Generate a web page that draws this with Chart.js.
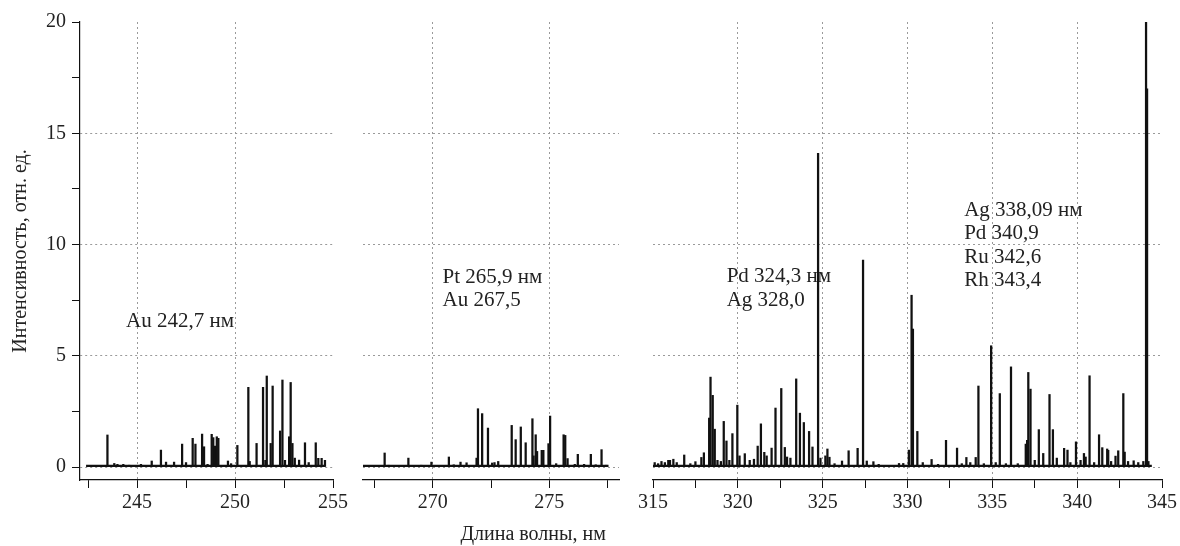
<!DOCTYPE html>
<html lang="ru">
<head>
<meta charset="utf-8">
<title>Спектр</title>
<script src="https://cdn.jsdelivr.net/npm/chart.js@4.4.1/dist/chart.umd.min.js"></script>
<style>
  html, body { margin: 0; padding: 0; background: #fff; overflow: hidden; }
  #wrap { position: relative; width: 1180px; height: 546px; }
  canvas { position: absolute; top: 0; }
</style>
</head>
<body>
<div id="wrap">
  <canvas id="panel-1" width="360" height="546" style="left:0"></canvas>
  <canvas id="panel-2" width="300" height="546" style="left:340px"></canvas>
  <canvas id="panel-3" width="550" height="546" style="left:630px"></canvas>
</div>
<script>
// --- Данные: длины волн (нм) и интенсивности (отн. ед.) ---
const p1Wl = [243.49, 243.84, 244.0, 244.3, 244.6, 245.2, 245.75, 246.22, 246.48, 246.89,
  247.3, 247.5, 247.84, 247.98, 248.32, 248.42, 248.6, 248.81, 248.89, 248.98,
  249.07, 249.15, 249.64, 249.8, 250.12, 250.68, 250.75, 251.1, 251.43, 251.55,
  251.62, 251.82, 251.92, 252.3, 252.42, 252.55, 252.76, 252.84, 252.93, 253.05,
  253.27, 253.57, 253.76, 254.12, 254.25, 254.42, 254.59];
const p1Int = [1.44, 0.16, 0.12, 0.12, 0.08, 0.12, 0.27, 0.76, 0.22, 0.22,
  1.03, 0.2, 1.29, 1.03, 1.48, 0.91, 0.12, 1.47, 1.32, 0.94,
  1.36, 1.29, 0.27, 0.15, 0.97, 3.58, 0.25, 1.06, 3.58, 0.3,
  4.09, 1.06, 3.64, 1.62, 3.91, 0.3, 1.36, 3.8, 1.06, 0.4,
  0.31, 1.09, 0.2, 1.09, 0.39, 0.39, 0.3];

const p2Wl = [267.93, 268.1, 268.95, 269.5, 269.94, 270.69, 270.9, 271.19, 271.45, 271.88,
  271.94, 272.12, 272.37, 272.55, 272.65, 272.81, 273.39, 273.56, 273.78, 273.99,
  274.28, 274.33, 274.42, 274.48, 274.68, 274.75, 274.97, 275.04, 275.3, 275.62,
  275.69, 275.79, 276.1, 276.23, 276.5, 276.79, 277.0, 277.25, 277.45];
const p2Int = [0.63, 0.08, 0.4, 0.08, 0.22, 0.45, 0.1, 0.22, 0.19, 0.4,
  2.62, 2.4, 1.75, 0.18, 0.2, 0.25, 1.87, 1.23, 1.8, 1.09,
  2.17, 0.5, 1.45, 0.7, 0.75, 0.75, 1.05, 2.29, 0.15, 1.45,
  1.42, 0.38, 0.12, 0.57, 0.12, 0.57, 0.1, 0.78, 0.08];

const p3Wl = [315.1, 315.3, 315.5, 315.7, 315.9, 316.0, 316.2, 316.4, 316.84, 317.2,
  317.5, 317.85, 318.0, 318.31, 318.39, 318.52, 318.64, 318.8, 319.0, 319.17,
  319.33, 319.5, 319.68, 319.97, 320.1, 320.41, 320.7, 320.95, 321.17, 321.36,
  321.56, 321.7, 321.99, 322.22, 322.56, 322.77, 322.9, 323.1, 323.44, 323.66,
  323.89, 324.2, 324.4, 324.73, 324.87, 325.16, 325.28, 325.4, 325.7, 326.14,
  326.53, 327.06, 327.38, 327.6, 327.99, 328.3, 329.5, 329.75, 330.08, 330.24,
  330.32, 330.58, 330.9, 331.42, 331.8, 332.27, 332.92, 333.2, 333.47, 333.7,
  334.02, 334.18, 334.5, 334.93, 335.2, 335.44, 335.8, 336.1, 336.5, 336.97,
  337.05, 337.12, 337.25, 337.5, 337.74, 338.0, 338.37, 338.57, 338.8, 339.23,
  339.43, 339.6, 339.93, 340.2, 340.4, 340.5, 340.73, 341.0, 341.29, 341.48,
  341.77, 341.83, 342.0, 342.26, 342.42, 342.72, 342.8, 343.0, 343.33, 343.6,
  343.9, 344.06, 344.12, 344.2];
const p3Int = [0.2, 0.15, 0.25, 0.2, 0.3, 0.3, 0.35, 0.2, 0.54, 0.15,
  0.24, 0.43, 0.64, 2.2, 4.04, 3.22, 1.7, 0.3, 0.25, 2.05,
  1.17, 0.3, 1.5, 2.78, 0.5, 0.6, 0.3, 0.35, 0.94, 1.94,
  0.66, 0.5, 0.85, 2.65, 3.53, 0.88, 0.45, 0.4, 3.96, 2.42,
  2.0, 1.6, 0.9, 14.1, 0.4, 0.5, 0.81, 0.44, 0.15, 0.27,
  0.73, 0.84, 9.3, 0.27, 0.24, 0.12, 0.16, 0.16, 0.76, 7.72,
  6.2, 1.6, 0.2, 0.34, 0.12, 1.2, 0.85, 0.15, 0.43, 0.2,
  0.43, 3.64, 0.15, 5.45, 0.2, 3.3, 0.15, 4.5, 0.15, 1.03,
  1.2, 4.25, 3.5, 0.3, 1.68, 0.61, 3.26, 1.68, 0.4, 0.84,
  0.76, 0.2, 1.13, 0.3, 0.61, 0.45, 4.1, 0.2, 1.45, 0.87,
  0.81, 0.75, 0.25, 0.49, 0.73, 3.3, 0.67, 0.25, 0.28, 0.2,
  0.25, 20.1, 17.0, 0.25];

// фон (базовая линия спектра): начало и конец записи
const p1Base = [242.4, 254.6];
const p2Base = [267.0, 277.55];
const p3Base = [315.0, 344.4];
const baseLevel = 0.05;

// подписи делений
const yLabels = [0, 5, 10, 15, 20];
const yGridAt = [0, 5, 10, 15];
const p1Labels = [245, 250, 255];
const p1GridAt = [245, 250];
const p2Labels = [270, 275];
const p2GridAt = [270, 275];
const p3Labels = [315, 320, 325, 330, 335, 340, 345];
const p3GridAt = [320, 325, 330, 335, 340];

// подписи линий элементов
const p1Notes = [{ x: 244.44, y: 6.53, lines: ['Au 242,7 нм'] }];
const p2Notes = [{ x: 270.42, y: 8.54, lines: ['Pt 265,9 нм', 'Au 267,5'] }];
const p3Notes = [
  { x: 319.34, y: 8.55, lines: ['Pd 324,3 нм', 'Ag 328,0'] },
  { x: 333.34, y: 11.55, lines: ['Ag 338,09 нм', 'Pd 340,9', 'Ru 342,6', 'Rh 343,4'] }
];

const yTitle = 'Интенсивность, отн. ед.';
const xTitle = 'Длина волны, нм';

// --- Стили ---
const FONT = "'Liberation Serif', 'Times New Roman', serif";
const INK = '#111';
const GRID = '#9a9a9a';
const Y_MIN = -0.584;
const Y_MAX = 20;

Chart.defaults.font.family = FONT;
Chart.defaults.font.size = 20;
Chart.defaults.color = '#222';

// Текстовые подписи внутри панели (и общая подпись оси X)
const notesPlugin = {
  id: 'notes',
  beforeDatasetsDraw(chart, args, opts) {
    const { ctx, scales: { x, y } } = chart;
    ctx.save();
    ctx.font = `21px ${FONT}`;
    ctx.fillStyle = '#222';
    ctx.textBaseline = 'middle';
    (opts.items || []).forEach(n => {
      const px = x.getPixelForValue(n.x);
      const py = y.getPixelForValue(n.y);
      n.lines.forEach((t, i) => ctx.fillText(t, px, py + i * 23.5));
    });
    ctx.restore();
  },
  afterDraw(chart, args, opts) {
    if (!opts.axisTitle) return;
    const { ctx, chartArea, scales: { x } } = chart;
    ctx.save();
    ctx.font = `20px ${FONT}`;
    ctx.fillStyle = '#222';
    ctx.textAlign = 'center';
    ctx.textBaseline = 'middle';
    ctx.fillText(opts.axisTitle.text, x.getPixelForValue(opts.axisTitle.at), chartArea.bottom + 55);
    ctx.restore();
  }
};

function toPoints(wl, val) {
  return wl.map((w, i) => ({ x: w, y: val[i] }));
}

function makePanel(id, cfg) {
  const ctx = document.getElementById(id).getContext('2d');
  return new Chart(ctx, {
    type: 'bar',
    data: {
      datasets: [
        {
          type: 'line',
          data: cfg.base.map(w => ({ x: w, y: baseLevel })),
          borderColor: INK,
          borderWidth: 2.2,
          pointRadius: 0,
          order: 2
        },
        {
          type: 'bar',
          data: toPoints(cfg.wl, cfg.val),
          backgroundColor: INK,
          borderWidth: 0,
          barThickness: 1.6,
          order: 1
        }
      ]
    },
    options: {
      responsive: false,
      animation: false,
      devicePixelRatio: 1,
      layout: { autoPadding: false, padding: { top: 22, right: cfg.padRight, left: 0, bottom: 0 } },
      plugins: {
        legend: { display: false },
        tooltip: { enabled: false },
        notes: { items: cfg.notes, axisTitle: cfg.axisTitle }
      },
      scales: {
        x: {
          type: 'linear',
          position: 'bottom',
          min: cfg.min,
          max: cfg.max,
          offset: false,
          afterFit: s => { s.height = 66; },
          border: { display: true, color: INK, width: 1.2, dash: [2, 3] },
          grid: {
            offset: false,
            color: c => (c.tick && cfg.gridAt.includes(c.tick.value)) ? GRID : 'transparent',
            tickColor: INK,
            tickLength: 8
          },
          ticks: {
            stepSize: 2.5,
            includeBounds: false,
            autoSkip: false,
            maxRotation: 0,
            padding: 3,
            callback: v => cfg.labels.includes(v) ? String(v) : ''
          }
        },
        y: {
          type: 'linear',
          position: 'left',
          min: Y_MIN,
          max: Y_MAX,
          afterFit: s => { s.width = cfg.yWidth; },
          border: { display: cfg.showY, color: INK, width: 1.2, dash: [2, 3] },
          grid: {
            color: c => (c.tick && yGridAt.includes(c.tick.value)) ? GRID : 'transparent',
            tickColor: INK,
            tickLength: 8,
            drawTicks: cfg.showY
          },
          ticks: {
            display: cfg.showY,
            stepSize: 2.5,
            includeBounds: false,
            padding: 6,
            callback: v => yLabels.includes(v) ? String(v) : ''
          },
          title: {
            display: cfg.showY,
            text: yTitle,
            font: { size: 20 },
            padding: { top: 9, bottom: 0 }
          }
        }
      }
    },
    plugins: [notesPlugin]
  });
}

makePanel('panel-1', {
  wl: p1Wl, val: p1Int, base: p1Base, min: 242.09, max: 255,
  labels: p1Labels, gridAt: p1GridAt, notes: p1Notes,
  showY: true, yWidth: 80, padRight: 27
});

makePanel('panel-2', {
  wl: p2Wl, val: p2Int, base: p2Base, min: 267.0, max: 278.0,
  labels: p2Labels, gridAt: p2GridAt, notes: p2Notes,
  axisTitle: { text: xTitle, at: 274.31 },
  showY: false, yWidth: 23, padRight: 21
});

makePanel('panel-3', {
  wl: p3Wl, val: p3Int, base: p3Base, min: 315, max: 345,
  labels: p3Labels, gridAt: p3GridAt, notes: p3Notes,
  showY: false, yWidth: 23, padRight: 15
});
</script>
</body>
</html>
